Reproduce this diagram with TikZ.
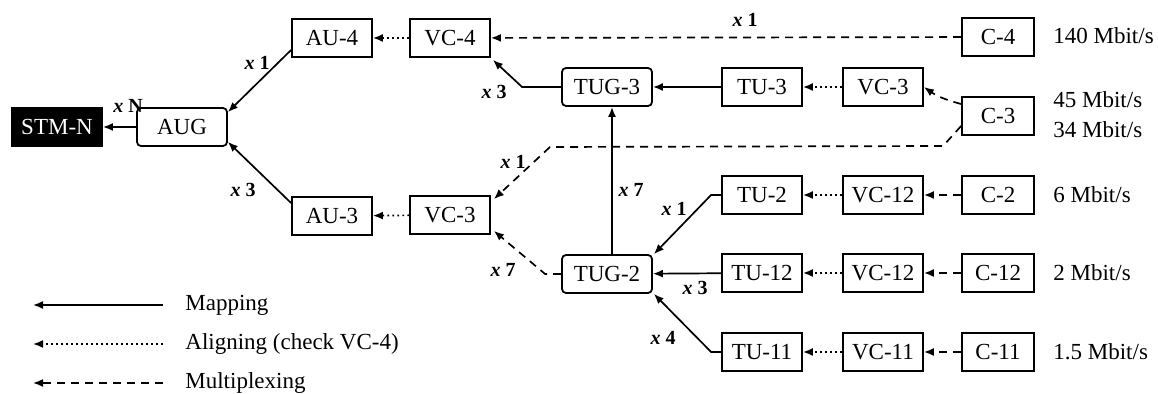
\documentclass[tikz,border=0pt]{standalone}
\usepackage{fontspec}
\setmainfont{Liberation Serif}
\usetikzlibrary{arrows.meta}
\tikzset{
  unit/.style={
    draw,
    line width=0.9pt,
    minimum width=40pt,
    minimum height=19pt,
    inner sep=0pt,
    font=\fontsize{11.5}{13}\selectfont
  },
  group/.style={unit, rounded corners=2pt, minimum width=45pt},
  cont/.style={unit, minimum width=36pt},
  stm/.style={unit, fill=black, text=white, minimum width=45pt},
  rate/.style={anchor=west, inner sep=0pt, font=\fontsize{11.5}{13}\selectfont},
  mapping/.style={
    line width=0.85pt,
    -{Latex[length=5pt,width=4pt]}
  },
  aligning/.style={mapping, dash pattern=on 0.9pt off 1.6pt},
  multiplex/.style={mapping, dash pattern=on 4pt off 3pt},
  mult/.style={inner sep=0pt, font=\bfseries\fontsize{10}{12}\selectfont}
}

\begin{document}
\begin{tikzpicture}[x=0.5pt,y=-0.5pt]
  \useasboundingbox (0,0) rectangle (1158,394);
  % AU level
  \node[stm]   (STM)   at (57,127)  {STM-N};
  \node[group] (AUG)   at (182,127) {AUG};
  \node[unit]  (AU4)   at (332,38)  {AU-4};
  \node[unit]  (VC4)   at (450,38)  {VC-4};
  \node[unit]  (AU3)   at (332,216) {AU-3};
  \node[unit]  (VC3b)  at (450,215) {VC-3};
  % TU level
  \node[group] (TUG3)  at (607,87)  {TUG-3};
  \node[group] (TUG2)  at (607,274) {TUG-2};
  \node[unit]  (TU3)   at (762,87)  {TU-3};
  \node[unit]  (TU2)   at (762,195) {TU-2};
  \node[unit]  (TU12)  at (762,273) {TU-12};
  \node[unit]  (TU11)  at (762,352) {TU-11};
  \node[unit]  (VC3)   at (883,87)  {VC-3};
  \node[unit]  (VC12a) at (883,195) {VC-12};
  \node[unit]  (VC12b) at (883,273) {VC-12};
  \node[unit]  (VC11)  at (883,352) {VC-11};
  % containers
  \node[cont]  (C4)    at (998,37)  {C-4};
  \node[cont]  (C3)    at (998,116) {C-3};
  \node[cont]  (C2)    at (998,195) {C-2};
  \node[cont]  (C12)   at (998,273) {C-12};
  \node[cont]  (C11)   at (998,352) {C-11};
  \node[rate]  (r140)  at (1053,36)  {140 Mbit/s};
  \node[rate]  (r45)   at (1053,100) {45 Mbit/s};
  \node[rate]  (r34)   at (1053,130) {34 Mbit/s};
  \node[rate]  (r6)    at (1053,195) {6 Mbit/s};
  \node[rate]  (r2)    at (1053,273) {2 Mbit/s};
  \node[rate]  (r15)   at (1053,352) {1.5 Mbit/s};

  % mapping
  \draw[mapping] (AUG) -- (STM);
  \draw[mapping] ([yshift=-6pt]AU4.west) -- ([yshift=-2.5pt]AUG.north east);
  \draw[mapping] ([yshift=6.5pt]AU3.west) -- ([yshift=2.5pt]AUG.south east);
  \draw[mapping] (TUG3.west) -- ++(-39,0) -- ([xshift=1pt,yshift=-1pt]VC4.south east);
  \draw[mapping] (TU3) -- (TUG3);
  \draw[mapping] ([xshift=2.5pt]TUG2.north) -- ([xshift=2.5pt]TUG3.south);
  \draw[mapping] (TU2.west) -- ++(-10,0) -- ([xshift=0.5pt]TUG2.north east);
  \draw[mapping] (TU12) -- (TUG2);
  \draw[mapping] (TU11.west) -- ++(-10,0) -- ([xshift=0.5pt]TUG2.south east);

  % aligning
  \draw[aligning] (VC4) -- (AU4);
  \draw[aligning] (VC3b) -- (AU3);
  \draw[aligning] (VC3) -- (TU3);
  \draw[aligning] (VC12a) -- (TU2);
  \draw[aligning] (VC12b) -- (TU12);
  \draw[aligning] (VC11) -- (TU11);

  % multiplexing
  \draw[multiplex] (C4) -- (VC4);
  \draw[multiplex] ([yshift=6pt]C3.west) to[out=165,in=-35] (VC3.east);
  \draw[multiplex] ([yshift=-5pt]C3.west) -- ++(-18,20) -- (550,147) -- ([xshift=1.5pt,yshift=-2pt]VC3b.north east);
  \draw[multiplex] (TUG2.west) -- ++(-16,0) -- ([xshift=1.5pt,yshift=2pt]VC3b.south east);
  \draw[multiplex] (C2) -- (VC12a);
  \draw[multiplex] (C12) -- (VC12b);
  \draw[multiplex] (C11) -- (VC11);

  % multipliers
  \node[mult] (mN)  at (128,106) {\textit{x} N};
  \node[mult] (m1a) at (257,63)  {\textit{x} 1};
  \node[mult] (m3a) at (243,190) {\textit{x} 3};
  \node[mult] (m1b) at (745,20)  {\textit{x} 1};
  \node[mult] (m3b) at (494,92)  {\textit{x} 3};
  \node[mult] (m1c) at (513,162) {\textit{x} 1};
  \node[mult] (m7a) at (631,190) {\textit{x} 7};
  \node[mult] (m7b) at (503,270) {\textit{x} 7};
  \node[mult] (m1d) at (674,209) {\textit{x} 1};
  \node[mult] (m3c) at (695,288) {\textit{x} 3};
  \node[mult] (m4)  at (663,338) {\textit{x} 4};

  % legend
  \coordinate (lg1) at (33,305);  \coordinate (lg1e) at (163,305);
  \coordinate (lg2) at (33,344);  \coordinate (lg2e) at (163,344);
  \coordinate (lg3) at (33,383);  \coordinate (lg3e) at (163,383);
  \draw[mapping] (lg1e) -- (lg1);
  \draw[aligning] (lg2e) -- (lg2);
  \draw[multiplex] (lg3e) -- (lg3);
  \node[rate] (tmap) at (185,305) {Mapping};
  \node[rate] (tali) at (185,344) {Aligning (check VC-4)};
  \node[rate] (tmux) at (185,383) {Multiplexing};
\end{tikzpicture}
\end{document}
